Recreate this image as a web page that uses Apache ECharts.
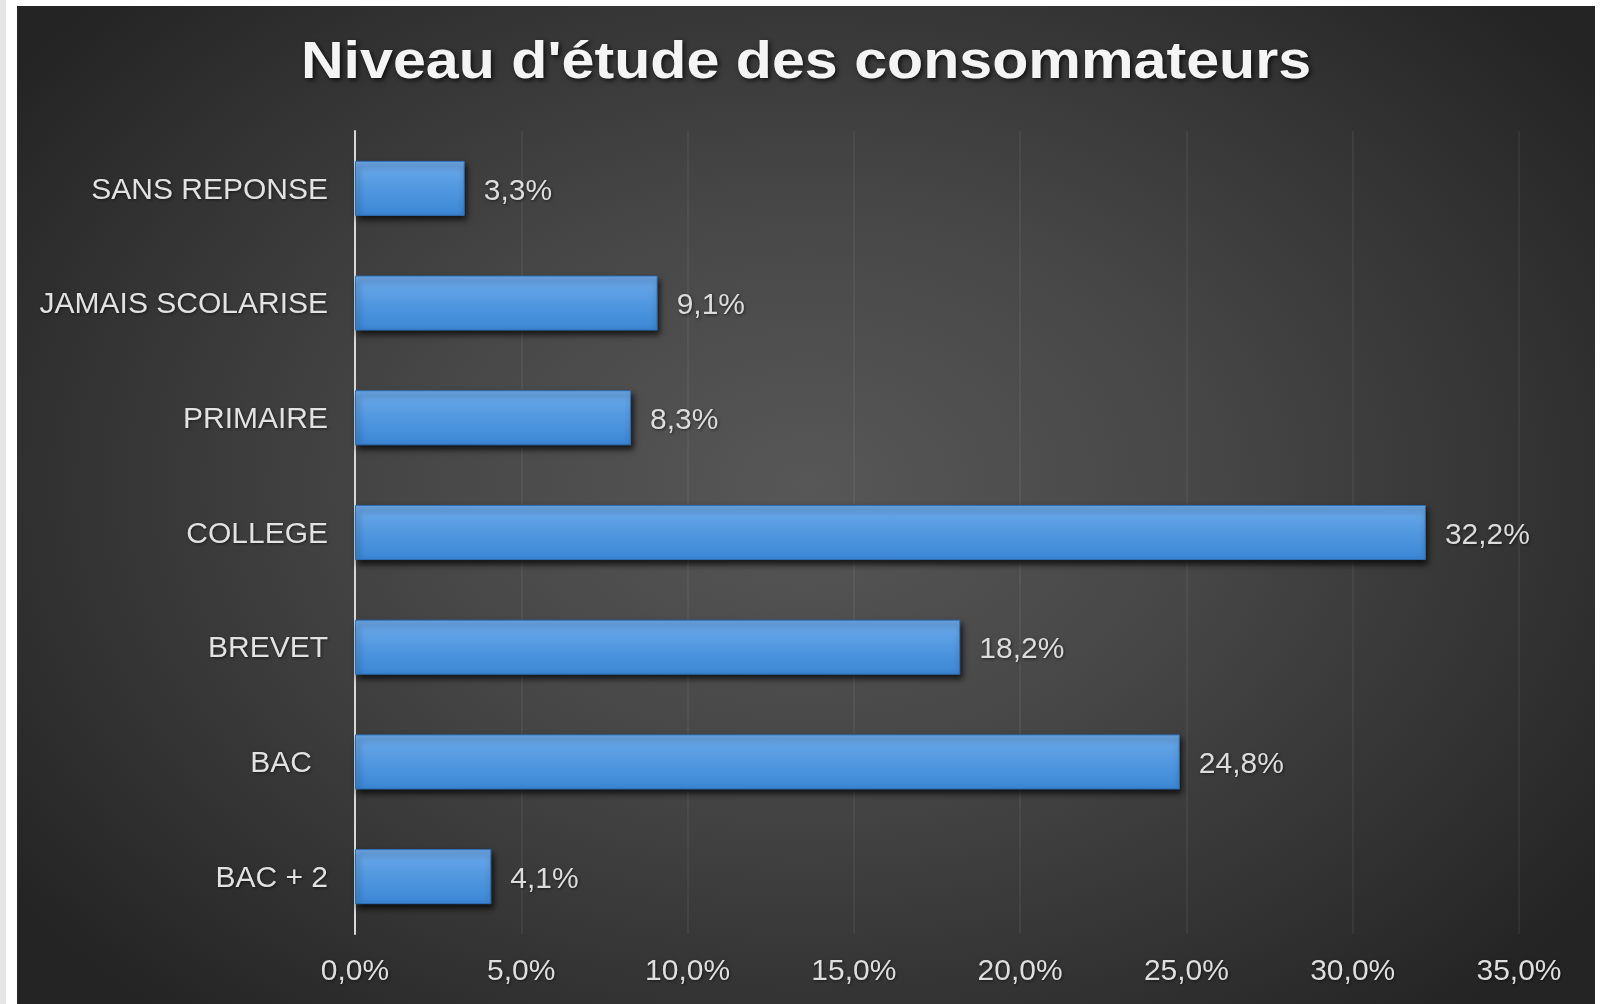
<!DOCTYPE html>
<html>
<head>
<meta charset="utf-8">
<script src="https://cdn.jsdelivr.net/npm/echarts@6/dist/echarts.min.js"></script>
<style>
  html, body { margin: 0; padding: 0; background: #ffffff; width: 1604px; height: 1004px; overflow: hidden; }
  #edge { position: absolute; left: 0; top: 0; width: 6px; height: 1004px; background: #e6e6e6; }
  #panel {
    position: absolute; left: 17px; top: 6px; width: 1578px; height: 998px;
    background: radial-gradient(ellipse 62% 70% at 50% 48%, #575757 0%, #474747 40%, #333333 75%, #242424 100%);
  }
  #chart { position: absolute; left: 17px; top: 6px; width: 1578px; height: 998px; }
</style>
</head>
<body>
<div id="edge"></div>
<div id="panel"></div>
<div id="chart"></div>
<script>
// Education level of consumers, listed top to bottom
const titleText = "Niveau d'étude des consommateurs";
const categories = ['SANS REPONSE', 'JAMAIS SCOLARISE', 'PRIMAIRE', 'COLLEGE', 'BREVET', 'BAC', 'BAC + 2'];
const shares = [3.3, 9.1, 8.3, 32.2, 18.2, 24.8, 4.1];
const axisTicks = [0, 5, 10, 15, 20, 25, 30, 35];

const FONT = '"Liberation Sans", Arial, sans-serif';
const fmtPct = v => v.toFixed(1).replace('.', ',') + '%';

const chart = echarts.init(document.getElementById('chart'), null, { renderer: 'canvas' });
const textShadow = { textShadowColor: 'rgba(0,0,0,0.55)', textShadowBlur: 3, textShadowOffsetX: 1, textShadowOffsetY: 1 };

chart.setOption({
  backgroundColor: 'transparent',
  animation: false,
  // widely tracked bold heading, stretched horizontally around its centre
  graphic: [{
    type: 'text',
    x: 789,
    y: 58,
    scaleX: 1.16,
    style: {
      text: titleText,
      fill: '#f4f4f4',
      font: 'bold 51px ' + FONT,
      align: 'center',
      verticalAlign: 'middle',
      textShadowColor: 'rgba(0,0,0,0.75)',
      textShadowBlur: 5,
      textShadowOffsetX: 2,
      textShadowOffsetY: 2
    }
  }],
  grid: { left: 338, right: 76, top: 125, bottom: 70, containLabel: false },
  xAxis: {
    type: 'value',
    min: axisTicks[0],
    max: axisTicks[axisTicks.length - 1],
    interval: axisTicks[1] - axisTicks[0],
    axisLine: { show: false },
    axisTick: { show: false },
    splitLine: { show: true, lineStyle: { color: 'rgba(255,255,255,0.05)', width: 2 } },
    axisLabel: Object.assign({
      color: '#dedede', fontSize: 30, margin: 23,
      fontFamily: FONT,
      formatter: v => fmtPct(v)
    }, textShadow)
  },
  yAxis: {
    type: 'category',
    data: categories,
    inverse: true,
    axisLine: { show: true, lineStyle: { color: '#d8d8d8', width: 2 } },
    axisTick: { show: false },
    splitLine: { show: false },
    axisLabel: Object.assign({
      color: '#e2e2e2', fontSize: 30, margin: 27,
      fontFamily: FONT,
      padding: [4, 0, 0, 0],
      formatter: v => v === 'BAC' ? '{pad|' + v + '}' : v,
      rich: { pad: { padding: [0, 16, 0, 0], color: '#e2e2e2', fontSize: 30, fontFamily: FONT } }
    }, textShadow)
  },
  series: [{
    type: 'bar',
    data: shares,
    barCategoryGap: '52%',
    itemStyle: {
      color: new echarts.graphic.LinearGradient(0, 0, 0, 1, [
        { offset: 0, color: '#6eaaea' },
        { offset: 0.5, color: '#5198e0' },
        { offset: 1, color: '#3b86d4' }
      ]),
      borderColor: '#2d6fb5',
      borderWidth: 1,
      shadowColor: 'rgba(0,0,0,0.75)',
      shadowBlur: 6,
      shadowOffsetX: 2,
      shadowOffsetY: 4
    },
    label: Object.assign({
      show: true,
      position: 'right',
      distance: 19,
      offset: [0, 3],
      color: '#dcdcdc',
      fontSize: 30,
      fontFamily: FONT,
      formatter: p => fmtPct(p.value)
    }, textShadow)
  }]
});
</script>
</body>
</html>
